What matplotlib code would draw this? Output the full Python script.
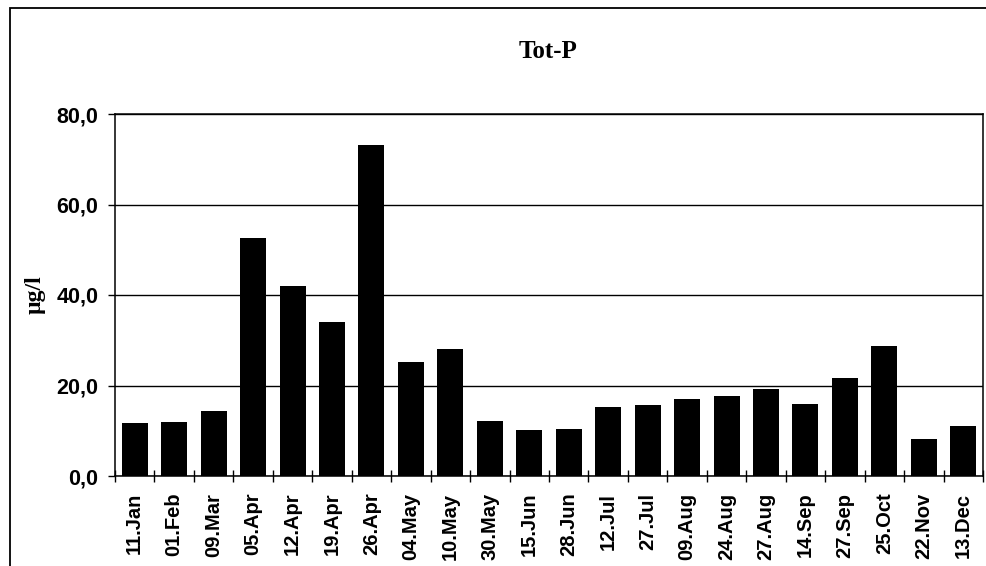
import matplotlib
matplotlib.use("Agg")
import matplotlib.pyplot as plt
from matplotlib.patches import Rectangle
import numpy as np

categories = ["11.Jan", "01.Feb", "09.Mar", "05.Apr", "12.Apr", "19.Apr", "26.Apr",
              "04.May", "10.May", "30.May", "15.Jun", "28.Jun", "12.Jul", "27.Jul",
              "09.Aug", "24.Aug", "27.Aug", "14.Sep", "27.Sep", "25.Oct", "22.Nov", "13.Dec"]
values = [11.7, 11.9, 14.3, 52.7, 42.0, 34.1, 73.2, 25.3, 28.0, 12.2, 10.1, 10.3,
          15.2, 15.8, 17.0, 17.7, 19.2, 15.9, 21.7, 28.7, 8.1, 11.0]
y_ticks = [0, 20, 40, 60, 80]
y_tick_labels = ["0,0", "20,0", "40,0", "60,0", "80,0"]
title = "Tot-P"
y_label = "µg/l"

W, H = 986, 566
fig = plt.figure(figsize=(W / 100, H / 100), dpi=100)

# outer chart frame
fig.patches.append(Rectangle((10 / W, -0.1), 1.2, 1 - 8 / H + 0.1, transform=fig.transFigure,
                             fill=False, edgecolor="black", linewidth=1.3))

left, right, top, bottom = 115, 983, 114, 476
ax = fig.add_axes([left / W, 1 - bottom / H, (right - left) / W, (bottom - top) / H])

x = np.arange(len(categories))
ax.bar(x, values, width=0.66, color="black", zorder=3)

ax.set_xlim(-0.5, len(categories) - 0.5)
ax.set_ylim(0, 80)
ax.set_yticks(y_ticks)
ax.set_yticklabels(y_tick_labels, fontfamily="Liberation Sans", fontweight="bold", fontsize=15.5)
ax.yaxis.grid(True, color="black", linewidth=1.0, zorder=0)
ax.tick_params(axis="y", direction="out", length=5, width=1, pad=7)

ax.set_xticks(x)
ax.set_xticklabels(categories, rotation=90, fontfamily="Liberation Sans", fontweight="bold",
                   fontsize=14.5)
ax.tick_params(axis="x", which="major", length=0, pad=12)
ax.set_xticks(np.arange(-0.5, len(categories), 1.0), minor=True)
ax.tick_params(axis="x", which="minor", direction="inout", length=9, width=1)

for s in ax.spines.values():
    s.set_linewidth(1.1)
    s.set_color("black")

fig.text(548 / W, 1 - 51 / H, title, ha="center", va="center",
         fontfamily="Liberation Serif", fontweight="bold", fontsize=18)
fig.text(35 / W, 1 - 295 / H, y_label, ha="center", va="center", rotation=90,
         fontfamily="Liberation Serif", fontweight="bold", fontsize=17)

fig.savefig("out.png", dpi=100)
